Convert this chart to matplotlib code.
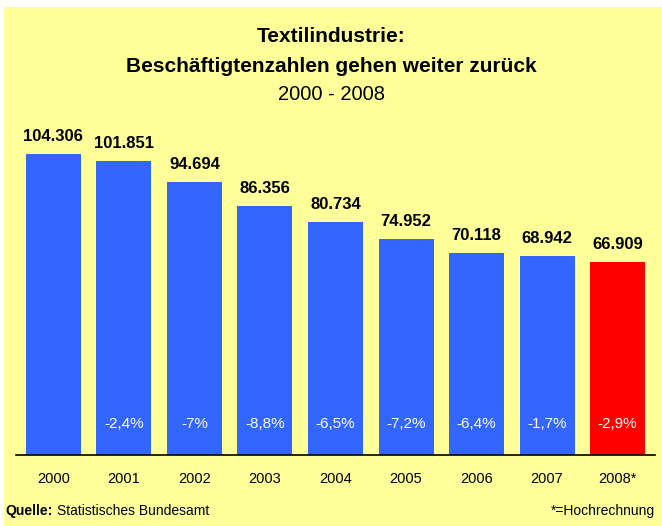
import matplotlib.pyplot as plt
from matplotlib.patches import Rectangle

plt.rcParams['font.family'] = ['Liberation Sans', 'DejaVu Sans']

years = ['2000', '2001', '2002', '2003', '2004', '2005', '2006', '2007', '2008*']
employees = [104306, 101851, 94694, 86356, 80734, 74952, 70118, 68942, 66909]
changes = ['', '-2,4%', '-7%', '-8,8%', '-6,5%', '-7,2%', '-6,4%', '-1,7%', '-2,9%']
value_labels = ['104.306', '101.851', '94.694', '86.356', '80.734', '74.952', '70.118', '68.942', '66.909']

blue = '#3366FF'
red = '#FF0000'
bg = '#FFFF99'

W, H = 662, 526
fig = plt.figure(figsize=(W / 100, H / 100), dpi=100)
fig.patch.set_facecolor('white')
fig.patches.append(Rectangle((4 / W, 0), 1 - 4 / W, 1 - 7 / H, transform=fig.transFigure,
                             facecolor=bg, edgecolor='none', zorder=-10))

# axes box in pixel terms: baseline at y=455, scale chosen so 104306 -> 301 px
ymax = 110000
h_px = ymax * 301 / 104306
ax = fig.add_axes([16 / W, (H - 455) / H, (655 - 16) / W, h_px / H])
ax.set_facecolor('none')

colors = [blue] * 8 + [red]
x = range(len(years))
ax.bar(x, employees, width=0.78, color=colors, zorder=2)
ax.set_xlim(-0.53, 8.53)
ax.set_ylim(0, ymax)

for i, (v, lab, ch) in enumerate(zip(employees, value_labels, changes)):
    ax.annotate(lab, xy=(i, v), xytext=(0, 7), textcoords='offset points',
                ha='center', va='bottom', fontsize=12, fontweight='bold', color='black')
    if ch:
        ax.annotate(ch, xy=(i, 0), xytext=(0, 22), textcoords='offset points',
                    ha='center', va='center', fontsize=11, color='white')

for s in ['top', 'right', 'left']:
    ax.spines[s].set_visible(False)
ax.spines['bottom'].set_linewidth(1.2)
ax.set_yticks([])
ax.set_xticks(list(x))
ax.set_xticklabels(years, fontsize=10.5)
ax.tick_params(axis='x', length=0, pad=12)

fig.text(0.5, 1 - 37 / H, 'Textilindustrie:', ha='center', va='center', fontsize=15, fontweight='bold')
fig.text(0.5, 1 - 66 / H, 'Beschäftigtenzahlen gehen weiter zurück', ha='center', va='center',
         fontsize=15, fontweight='bold')
fig.text(0.5, 1 - 94 / H, '2000 - 2008', ha='center', va='center', fontsize=14.5)

fig.text(5 / W, 1 - 511 / H, 'Quelle:', ha='left', va='center', fontsize=10, fontweight='bold')
fig.text(57 / W, 1 - 511 / H, 'Statistisches Bundesamt', ha='left', va='center', fontsize=10)
fig.text(655 / W, 1 - 511 / H, '*=Hochrechnung', ha='right', va='center', fontsize=10)

fig.savefig('out.png', dpi=100, facecolor=fig.get_facecolor())
